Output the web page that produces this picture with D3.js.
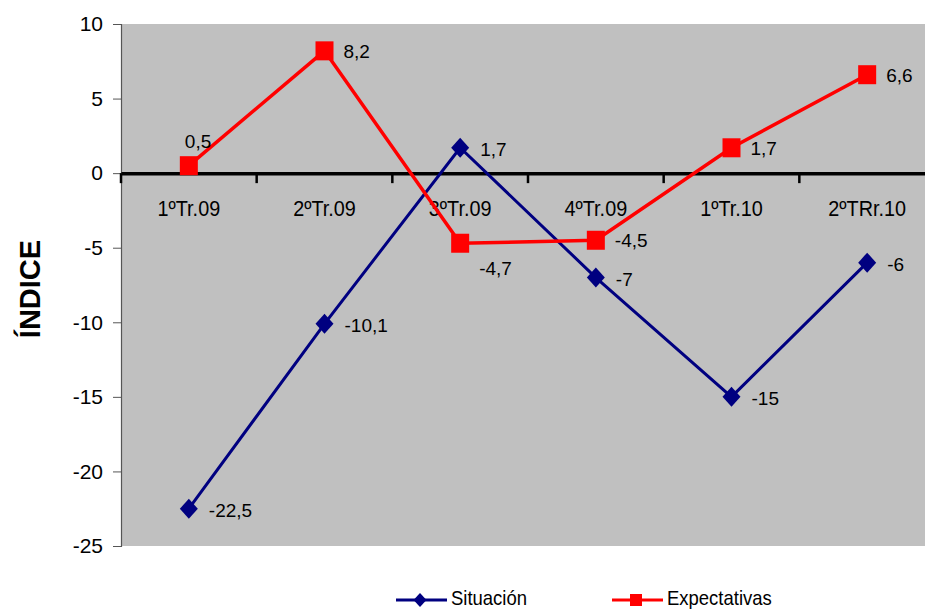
<!DOCTYPE html>
<html>
<head>
<meta charset="utf-8">
<script src="https://cdn.jsdelivr.net/npm/d3@7"></script>
<style>
  body { margin: 0; background: #fff; overflow: hidden; }
  text { font-family: "Liberation Sans", Arial, sans-serif; fill: #000; }
</style>
</head>
<body>
<svg id="chart" width="925" height="609"></svg>
<script>
const categories = ['1ºTr.09', '2ºTr.09', '3ºTr.09', '4ºTr.09', '1ºTr.10', '2ºTRr.10'];
const situacion = [-22.5, -10.1, 1.7, -7, -15, -6];
const expectativas = [0.5, 8.2, -4.7, -4.5, 1.7, 6.6];
const yTicks = [10, 5, 0, -5, -10, -15, -20, -25];
// label placement per point: 'r' right, 't' top, 'br' below-right
const expLabelPos = ['t', 'r', 'br', 'r', 'r', 'r'];

const margin = {top: 24, left: 121};
const width = 814;
const height = 522;

const svg = d3.select('#chart');
const g = svg.append('g').attr('transform', `translate(${margin.left},${margin.top})`);

const x = d3.scaleBand().domain(categories).range([0, width]);
const y = d3.scaleLinear().domain([-25, 10]).range([height, 0]);
const cx = (d) => x(d) + x.bandwidth() / 2;
const fmt = (v) => String(v).replace('.', ',');

// squeeze text a little, the source font is narrower than Arial
function narrow(sel, k) {
  sel.each(function() {
    const len = this.getComputedTextLength();
    d3.select(this).attr('textLength', len * k).attr('lengthAdjust', 'spacingAndGlyphs');
  });
}

// plot background
g.append('rect')
  .attr('width', width)
  .attr('height', height)
  .attr('fill', '#c0c0c0');

// y axis
const axisY = g.append('g').call(d3.axisLeft(y).tickValues(yTicks).tickSize(8).tickPadding(10).tickFormat((d) => String(d)));
axisY.select('.domain').attr('stroke', '#555').attr('stroke-width', 1.2);
axisY.selectAll('.tick line').attr('stroke', '#555');
axisY.selectAll('text')
  .style('font-family', '"Liberation Sans", Arial, sans-serif')
  .style('font-size', '21px')
  .attr('fill', '#000');

// x axis at zero
const axisX = g.append('g')
  .attr('transform', `translate(0,${y(0)})`)
  .call(d3.axisBottom(x).tickSize(0).tickPadding(27));
axisX.select('.domain').attr('stroke', '#000').attr('stroke-width', 3.5);
axisX.selectAll('text')
  .style('font-family', '"Liberation Sans", Arial, sans-serif')
  .style('font-size', '22px')
  .attr('fill', '#000')
  .call(narrow, 0.9);
g.append('g').selectAll('line')
  .data(d3.range(categories.length + 1))
  .join('line')
  .attr('x1', (i) => i * x.step())
  .attr('x2', (i) => i * x.step())
  .attr('y1', y(0))
  .attr('y2', y(0) + 10)
  .attr('stroke', '#000')
  .attr('stroke-width', 2.5);

const line = d3.line().x((d, i) => cx(categories[i])).y((d) => y(d));

// Situación
g.append('path')
  .datum(situacion)
  .attr('d', line)
  .attr('fill', 'none')
  .attr('stroke', '#000080')
  .attr('stroke-width', 3);
g.selectAll('.sit')
  .data(situacion)
  .join('path')
  .attr('class', 'sit')
  .attr('d', 'M0,-10L9,0L0,10L-9,0Z')
  .attr('transform', (d, i) => `translate(${cx(categories[i])},${y(d)})`)
  .attr('fill', '#000080');
g.selectAll('.sitlab')
  .data(situacion)
  .join('text')
  .attr('x', (d, i) => cx(categories[i]) + 20)
  .attr('y', (d) => y(d) + 8)
  .style('font-size', '19px')
  .text((d) => fmt(d));

// Expectativas
g.append('path')
  .datum(expectativas)
  .attr('d', line)
  .attr('fill', 'none')
  .attr('stroke', '#ff0000')
  .attr('stroke-width', 3.5);
g.selectAll('.exp')
  .data(expectativas)
  .join('rect')
  .attr('class', 'exp')
  .attr('x', (d, i) => cx(categories[i]) - 9)
  .attr('y', (d) => y(d) - 9.5)
  .attr('width', 18)
  .attr('height', 19)
  .attr('fill', '#ff0000');
g.selectAll('.explab')
  .data(expectativas)
  .join('text')
  .attr('x', (d, i) => {
    const p = expLabelPos[i];
    if (p === 't') return cx(categories[i]) - 4;
    return cx(categories[i]) + 19;
  })
  .attr('y', (d, i) => {
    const p = expLabelPos[i];
    if (p === 't') return y(d) - 18;
    if (p === 'br') return y(d) + 32;
    return y(d) + 7;
  })
  .style('font-size', '19px')
  .text((d) => fmt(d));

// y title
svg.append('text')
  .attr('transform', 'translate(40,289) rotate(-90)')
  .attr('text-anchor', 'middle')
  .style('font-size', '29px')
  .style('font-weight', 'bold')
  .text('ÍNDICE');

// legend
const legend = svg.append('g').attr('transform', 'translate(0,600)');
const items = [
  {name: 'Situación', color: '#000080', x: 396, shape: 'diamond'},
  {name: 'Expectativas', color: '#ff0000', x: 612, shape: 'square'},
];
items.forEach((it) => {
  legend.append('line')
    .attr('x1', it.x).attr('x2', it.x + 51)
    .attr('stroke', it.color).attr('stroke-width', 3);
  if (it.shape === 'diamond') {
    legend.append('path')
      .attr('d', 'M0,-7L6.5,0L0,7L-6.5,0Z')
      .attr('transform', `translate(${it.x + 24},0)`)
      .attr('fill', it.color);
  } else {
    legend.append('rect')
      .attr('x', it.x + 18).attr('y', -6).attr('width', 12).attr('height', 12)
      .attr('fill', it.color);
  }
  legend.append('text')
    .attr('x', it.x + 55).attr('y', 5)
    .style('font-size', '21px')
    .text(it.name)
    .call(narrow, 0.88);
});
</script>
</body>
</html>
